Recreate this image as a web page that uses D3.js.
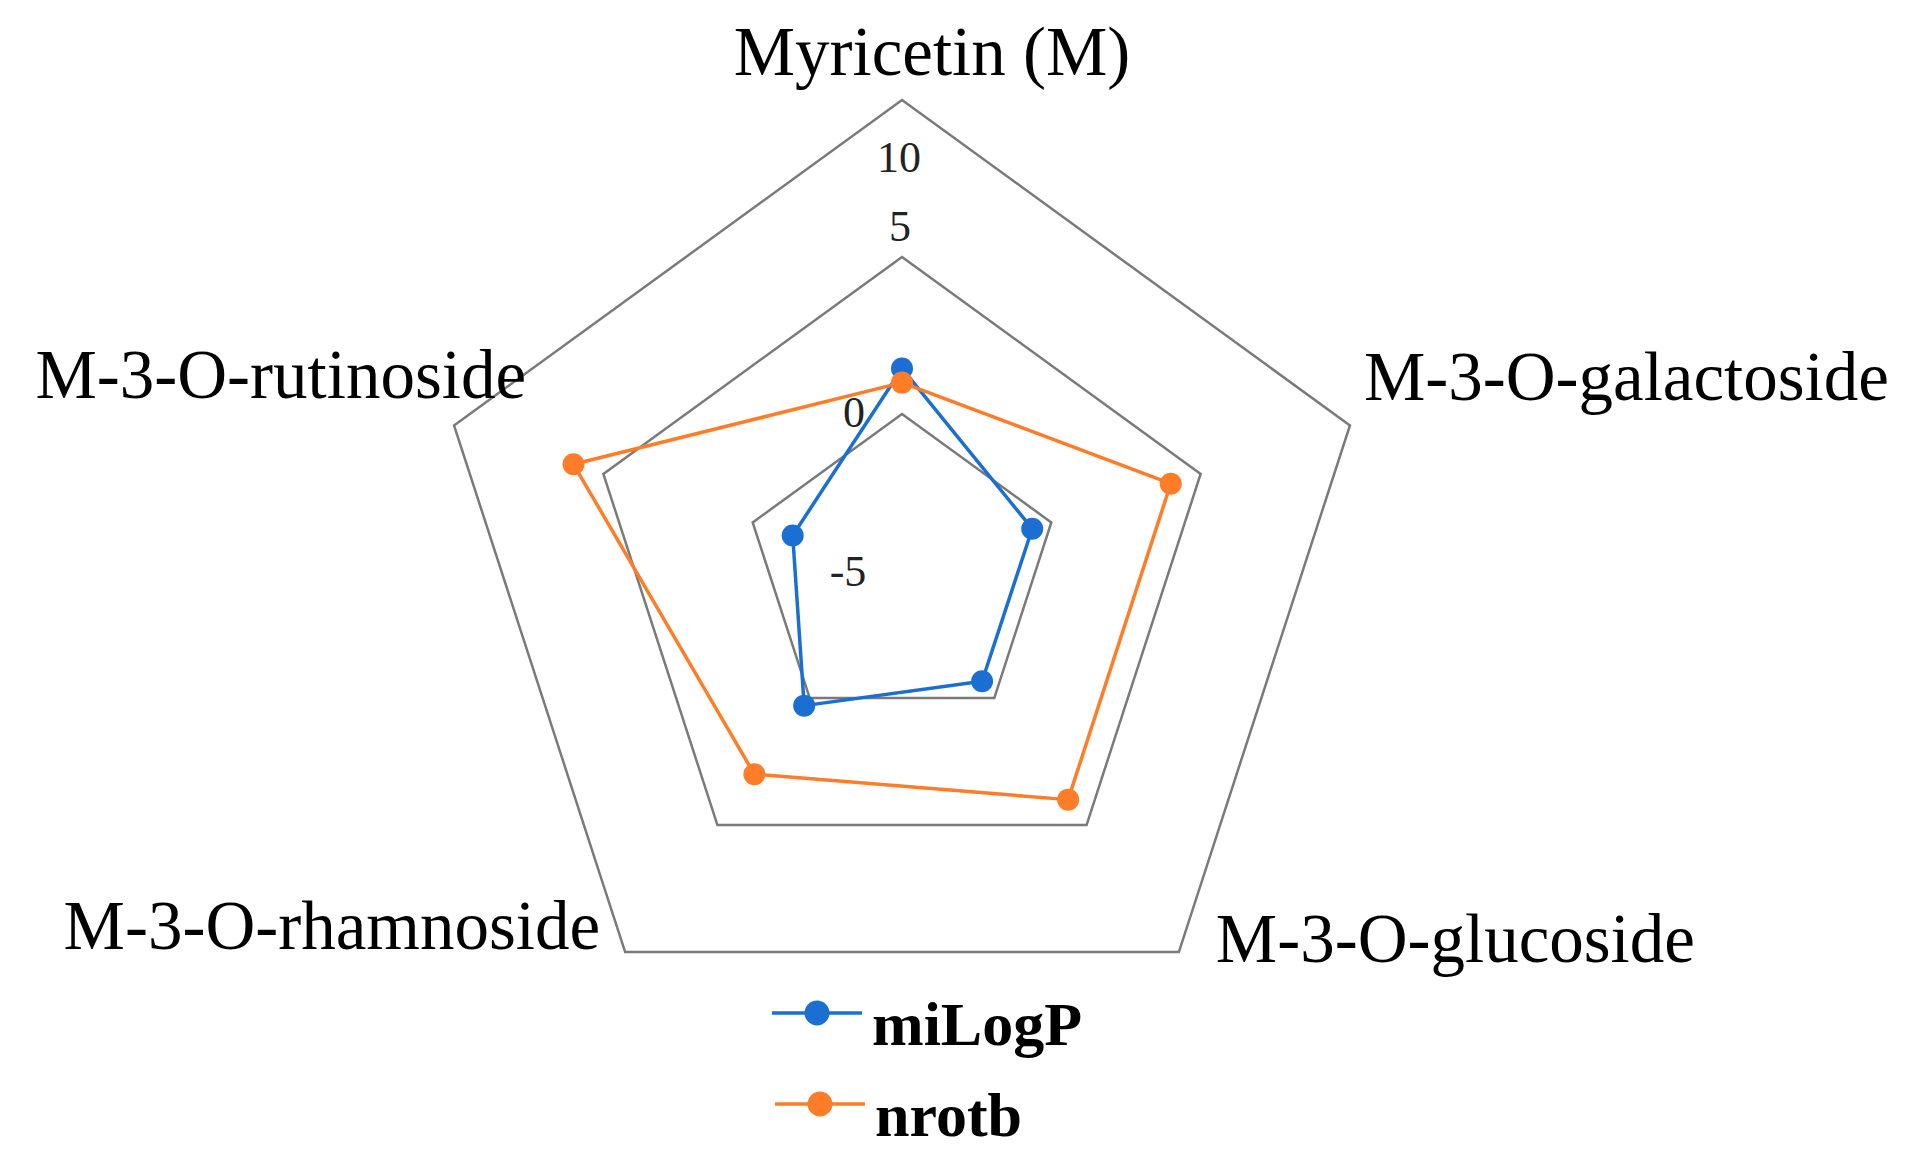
<!DOCTYPE html>
<html>
<head>
<meta charset="utf-8">
<script src="https://cdn.jsdelivr.net/npm/d3@7"></script>
<style>
  html, body { margin: 0; padding: 0; background: #fff; }
  svg { display: block; }
</style>
</head>
<body>
<svg id="chart" width="1910" height="1168"></svg>
<script>
// ---- data ----
const categories = ["Myricetin (M)", "M-3-O-galactoside", "M-3-O-glucoside", "M-3-O-rhamnoside", "M-3-O-rutinoside"];
const miLogP = [1.45, -0.64, -0.66, 0.3, -1.34];
const nrotb = [1, 4, 4, 3, 6];
const seriesNames = ["miLogP", "nrotb"];
const tickValues = [-5, 0, 5, 10];
const gridValues = [0, 5, 10];

// ---- layout ----
const svg = d3.select("#chart");
const cx = 902, cy = 571;
const r = d3.scaleLinear().domain([-5, 10]).range([0, 471]);
const angle = d3.scaleLinear().domain([0, categories.length]).range([0, 2 * Math.PI]);
const pt = (i, v) => [cx + r(v) * Math.sin(angle(i)), cy - r(v) * Math.cos(angle(i))];

const colors = { miLogP: "#1b6fd3", nrotb: "#ff7d28" };
const font = "'Liberation Serif', 'Times New Roman', serif";

// grid pentagons
const lineClosed = d3.line().curve(d3.curveLinearClosed);
svg.append("g").selectAll("path").data(gridValues).join("path")
  .attr("d", v => lineClosed(categories.map((c, i) => pt(i, v))))
  .attr("fill", "none").attr("stroke", "#7a7a7a").attr("stroke-width", 2.5);

// tick labels (Excel-style placement offsets)
const tickOffsets = [[-54, 0], [-48, -2], [-2, -31], [-3, 57]];
svg.append("g").selectAll("text").data(tickValues).join("text")
  .attr("x", (v, k) => cx + tickOffsets[k][0])
  .attr("y", (v, k) => cy - r(v) + tickOffsets[k][1])
  .attr("text-anchor", "middle").attr("dominant-baseline", "central")
  .attr("font-family", font).attr("font-size", 44).attr("fill", "#222")
  .text(v => v);

// series
const series = [
  { name: "miLogP", values: miLogP },
  { name: "nrotb", values: nrotb }
];
const sg = svg.append("g").selectAll("g").data(series).join("g");
sg.append("path")
  .attr("d", s => lineClosed(s.values.map((v, i) => pt(i, v))))
  .attr("fill", "none").attr("stroke", s => colors[s.name]).attr("stroke-width", 3.5)
  .attr("stroke-linejoin", "round");
sg.selectAll("circle").data(s => s.values.map((v, i) => ({ name: s.name, p: pt(i, v) }))).join("circle")
  .attr("cx", d => d.p[0]).attr("cy", d => d.p[1]).attr("r", 11)
  .attr("fill", d => colors[d.name]);

// category labels
const labelPos = [
  { dx: 30, dy: -25, anchor: "middle" },
  { dx: 14, dy: -25, anchor: "start" },
  { dx: 37, dy: 10, anchor: "start" },
  { dx: -25, dy: -3, anchor: "end" },
  { dx: 72, dy: -27, anchor: "end" }
];
svg.append("g").selectAll("text").data(categories).join("text")
  .attr("x", (c, i) => pt(i, 10)[0] + labelPos[i].dx)
  .attr("y", (c, i) => pt(i, 10)[1] + labelPos[i].dy)
  .attr("text-anchor", (c, i) => labelPos[i].anchor)
  .attr("font-family", font).attr("font-size", 69).attr("fill", "#000")
  .text(c => c);

// legend
const legendRows = [
  { x0: 772, y: 1013 },
  { x0: 775, y: 1104 }
];
const lg = svg.append("g").selectAll("g").data(seriesNames).join("g")
  .attr("transform", (n, k) => `translate(${legendRows[k].x0},${legendRows[k].y})`);
lg.append("line").attr("x1", 0).attr("x2", 90).attr("y1", 0).attr("y2", 0)
  .attr("stroke", n => colors[n]).attr("stroke-width", 3.5);
lg.append("circle").attr("cx", 45).attr("cy", 0).attr("r", 12.5).attr("fill", n => colors[n]);
lg.append("text").attr("x", 100).attr("y", 32)
  .attr("font-family", font).attr("font-size", 62).attr("font-weight", "bold").attr("fill", "#000")
  .text(n => n);
</script>
</body>
</html>
